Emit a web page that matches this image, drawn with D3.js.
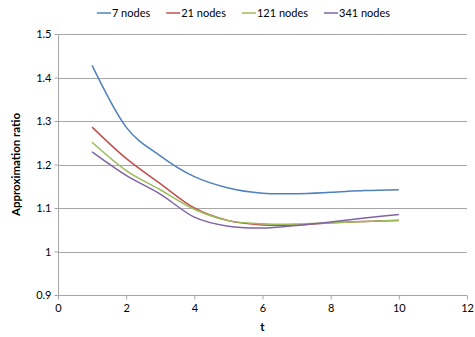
<!DOCTYPE html>
<html>
<head>
<meta charset="utf-8">
<script src="https://cdn.jsdelivr.net/npm/d3@7"></script>
<style>
  body { margin: 0; background: #fff; }
  svg text { font-family: Lato, "Open Sans", sans-serif; fill: #000; }
</style>
</head>
<body>
<div id="wrapper"></div>
<script>
// data
let tValues = [1, 2, 3, 4, 5, 6, 7, 8, 9, 10];
let seriesNames = ['7 nodes', '21 nodes', '121 nodes', '341 nodes'];
let seriesColors = ['#4F81BD', '#C0504D', '#9BBB59', '#8064A2'];
let nodes7 = [1.428, 1.286, 1.220, 1.172, 1.146, 1.134, 1.133, 1.136, 1.140, 1.142];
let nodes21 = [1.286, 1.214, 1.156, 1.100, 1.071, 1.061, 1.061, 1.066, 1.069, 1.071];
let nodes121 = [1.251, 1.186, 1.142, 1.097, 1.071, 1.064, 1.063, 1.066, 1.069, 1.072];
let nodes341 = [1.229, 1.175, 1.132, 1.079, 1.058, 1.054, 1.060, 1.068, 1.077, 1.085];
let xTicks = [0, 2, 4, 6, 8, 10, 12];
let yTicks = [0.9, 1, 1.1, 1.2, 1.3, 1.4, 1.5];

let allSeries = [nodes7, nodes21, nodes121, nodes341].map((vals, i) => ({
    name: seriesNames[i],
    color: seriesColors[i],
    points: vals.map((v, j) => ({t: tValues[j], v: v}))
}));

let width = 475, height = 337;
let plot = {left: 58, right: 467, top: 34, bottom: 295};

let svg = d3.select('#wrapper').append('svg')
    .attr('width', width)
    .attr('height', height);

let xScale = d3.scaleLinear().domain([0, 12]).range([plot.left, plot.right]);
let yScale = d3.scaleLinear().domain([0.9, 1.5]).range([plot.bottom, plot.top]);

// gridlines
svg.append('g').selectAll('line').data(yTicks.filter(d => d > 0.9)).enter().append('line')
    .attr('x1', plot.left).attr('x2', plot.right)
    .attr('y1', d => Math.round(yScale(d)) + 0.5).attr('y2', d => Math.round(yScale(d)) + 0.5)
    .attr('stroke', '#a6a6a6').attr('stroke-width', 1);

// axes
let yAxis = svg.append('g')
    .attr('transform', 'translate(' + (plot.left + 0.5) + ',0)')
    .call(d3.axisLeft(yScale).tickValues(yTicks).tickSize(4).tickPadding(3)
        .tickFormat(d => d3.format('')(+d.toFixed(1))));
let xAxis = svg.append('g')
    .attr('transform', 'translate(0,' + (Math.round(plot.bottom) + 0.5) + ')')
    .call(d3.axisBottom(xScale).tickValues(xTicks).tickSize(4).tickPadding(5));

[xAxis, yAxis].forEach(ax => {
    ax.select('.domain').attr('stroke', '#a6a6a6');
    ax.selectAll('.tick line').attr('stroke', '#a6a6a6');
    ax.selectAll('.tick text').style('font-size', '11px').attr('fill', '#000');
});
xAxis.select('.domain').attr('d', 'M' + plot.left + ',0H' + plot.right);
yAxis.select('.domain').attr('d', 'M0,' + plot.bottom + 'V' + plot.top);

// axis titles
svg.append('text')
    .attr('x', (plot.left + plot.right) / 2)
    .attr('y', 331)
    .attr('text-anchor', 'middle')
    .style('font-size', '11.5px').style('font-weight', 'bold')
    .text('t');
svg.append('text')
    .attr('transform', 'translate(20,' + ((plot.top + plot.bottom) / 2) + ') rotate(-90)')
    .attr('text-anchor', 'middle')
    .style('font-size', '11.5px').style('font-weight', 'bold')
    .text('Approximation ratio');

// lines
let lineGen = d3.line()
    .x(d => xScale(d.t))
    .y(d => yScale(d.v))
    .curve(d3.curveCatmullRom.alpha(0));

svg.append('g').selectAll('path').data(allSeries).enter().append('path')
    .attr('d', d => lineGen(d.points))
    .attr('fill', 'none')
    .attr('stroke', d => d.color)
    .attr('stroke-width', 1.5);

// legend
let legend = svg.append('g').attr('transform', 'translate(0,13)');
let items = legend.selectAll('g').data(allSeries).enter().append('g');
items.append('line')
    .attr('x1', 0).attr('x2', 14).attr('y1', 0).attr('y2', 0)
    .attr('stroke', d => d.color).attr('stroke-width', 1.5);
items.append('text')
    .attr('x', 15).attr('y', 4)
    .style('font-size', '11px')
    .text(d => d.name);
let widths = [];
items.each(function() { widths.push(15 + d3.select(this).select('text').node().getComputedTextLength()); });
let gap = 16;
let total = d3.sum(widths) + gap * (widths.length - 1);
let cursor = 243.5 - total / 2;
items.attr('transform', (d, i) => {
    let x = cursor;
    cursor += widths[i] + gap;
    return 'translate(' + x + ',0)';
});
</script>
</body>
</html>
